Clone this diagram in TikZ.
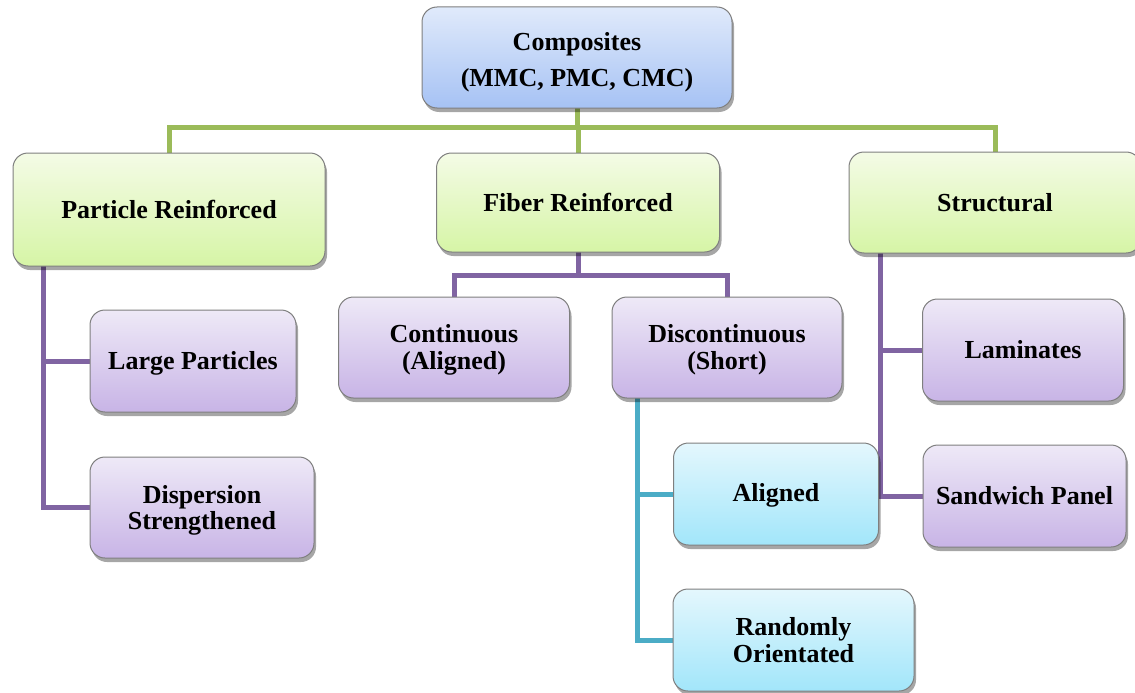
\documentclass[tikz,border=0pt]{standalone}
\usepackage{fontspec}
\setmainfont{Liberation Serif}
\usetikzlibrary{shadows,backgrounds}
\definecolor{gline}{HTML}{9BBB59}
\definecolor{pline}{HTML}{8064A2}
\definecolor{cline}{HTML}{4BACC6}
\definecolor{btop}{HTML}{E0EAFB}
\definecolor{bbot}{HTML}{A6C2F4}
\definecolor{gtop}{HTML}{F4FBE6}
\definecolor{gbot}{HTML}{D6F5A6}
\definecolor{ptop}{HTML}{EEE9F7}
\definecolor{pbot}{HTML}{C8B4E6}
\definecolor{ctop}{HTML}{E4F7FD}
\definecolor{cbot}{HTML}{A2E6FA}
\definecolor{edge}{HTML}{7F7F7F}
\tikzset{
  box/.style={draw=edge, line width=1pt, rounded corners=15pt, align=center,
    inner sep=0pt, font=\fontsize{26}{26.5}\selectfont\bfseries,
    drop shadow={shadow xshift=2pt, shadow yshift=-4pt, opacity=0.35, fill=black}},
  bluebox/.style={box, top color=btop, bottom color=bbot},
  greenbox/.style={box, top color=gtop, bottom color=gbot},
  purplebox/.style={box, top color=ptop, bottom color=pbot},
  cyanbox/.style={box, top color=ctop, bottom color=cbot},
  conn/.style={line width=5pt, line join=miter, line cap=rect},
  gconn/.style={conn, draw=gline},
  pconn/.style={conn, draw=pline},
  cconn/.style={conn, draw=cline},
}
\begin{document}
\begin{tikzpicture}[x=1pt, y=-1pt]
\useasboundingbox (0,0) rectangle (1135,693);
\node[bluebox, minimum width=310pt, minimum height=101pt] (comp) at (577,57.5)
  {\rule{0pt}{28.5pt}Composites\\[9.5pt](MMC, PMC, CMC)};
\node[greenbox, minimum width=312pt, minimum height=113pt] (part) at (169,209.5) {Particle Reinforced};
\node[greenbox, minimum width=283pt, minimum height=99pt] (fib) at (578,202.5) {Fiber Reinforced};
\node[greenbox, minimum width=292pt, minimum height=101pt] (struc) at (995,202.5) {Structural};
\node[purplebox, minimum width=206pt, minimum height=102pt] (lp) at (193,361) {\rule{0pt}{22pt}Large Particles};
\node[purplebox, minimum width=224pt, minimum height=101pt] (ds) at (202,507.5) {\rule{0pt}{24pt}Dispersion\\Strengthened};
\node[purplebox, minimum width=231pt, minimum height=101pt] (cont) at (454,347.5) {\rule{0pt}{23pt}Continuous\\(Aligned)};
\node[purplebox, minimum width=230pt, minimum height=101pt] (disc) at (727,347.5) {\rule{0pt}{23pt}Discontinuous\\(Short)};
\node[purplebox, minimum width=201pt, minimum height=102pt] (lam) at (1023,350) {Laminates};
\node[purplebox, minimum width=203pt, minimum height=102pt] (sw) at (1024.5,496) {Sandwich Panel};
\node[cyanbox, minimum width=205pt, minimum height=102pt] (al) at (776,494) {\rule{0pt}{21pt}Aligned};
\node[cyanbox, minimum width=241pt, minimum height=102pt] (rand) at (793.5,640) {Randomly\\Orientated};
\coordinate (gbus) at (578,127);
\coordinate (pbus) at (43,0);
\coordinate (fbus) at (0,275);
\coordinate (sbus) at (880,0);
\coordinate (cbus) at (637,0);
\begin{scope}[on background layer]
  % green
  \draw[gconn] (comp.south) -- (comp.south |- gbus);
  \draw[gconn] (part.north) |- (gbus) -| (struc.north);
  \draw[gconn] (fib.north) -- (fib.north |- gbus);
  % particle
  \draw[pconn] (part.south -| pbus) |- (ds.west);
  \draw[pconn] (lp.west) -- (lp.west -| pbus);
  % fiber
  \draw[pconn] (fib.south) -- (fib.south |- fbus);
  \draw[pconn] (cont.north) |- (fbus -| disc.north) -- (disc.north);
  % structural
  \draw[pconn] (struc.south -| sbus) |- (sw.west);
  \draw[pconn] (lam.west) -- (lam.west -| sbus);
  % discontinuous
  \draw[cconn] (disc.south -| cbus) |- (rand.west);
  \draw[cconn] (al.west) -- (al.west -| cbus);
\end{scope}
\end{tikzpicture}
\end{document}
